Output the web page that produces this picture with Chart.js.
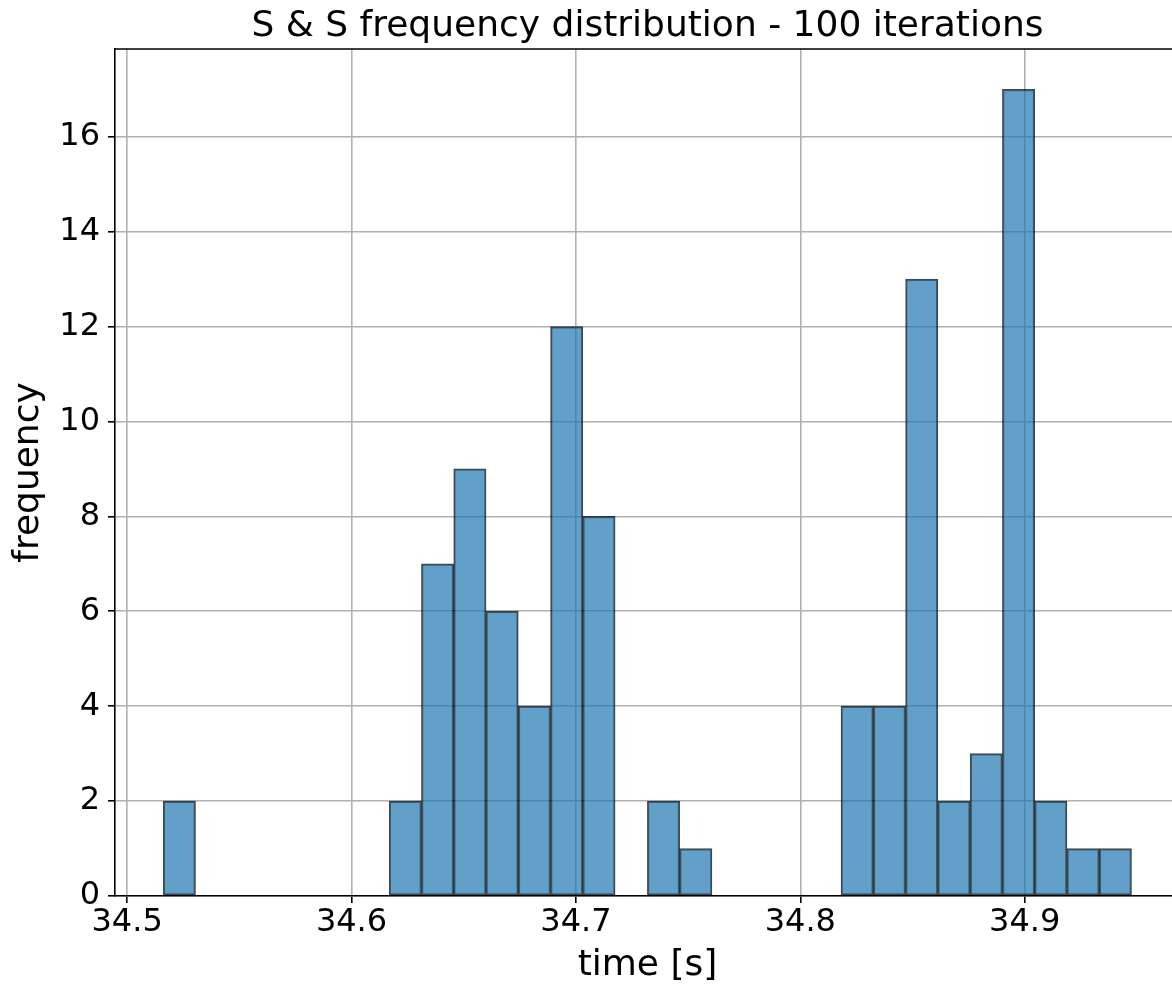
<!DOCTYPE html>
<html>
<head>
<meta charset="utf-8">
<script src="https://cdn.jsdelivr.net/npm/chart.js@4/dist/chart.umd.min.js"></script>
<style>
  html, body { margin: 0; padding: 0; overflow: hidden; background: #fff; }
</style>
</head>
<body>
<canvas id="myChart" width="1295" height="986"></canvas>
<script>
// histogram: 30 bins, first edge + width
const firstEdge = 34.5161;
const binWidth = 0.014383;
const counts = [2, 0, 0, 0, 0, 0, 0, 2, 7, 9, 6, 4, 12, 8, 0, 2, 1, 0, 0, 0, 0, 4, 4, 13, 2, 3, 17, 2, 1, 1];
const xTicks = [34.5, 34.6, 34.7, 34.8, 34.9];
const yTicks = [0, 2, 4, 6, 8, 10, 12, 14, 16];
const xMin = 34.4946, xMax = 34.9692;
const yMax = 17.85;

const points = counts.map((c, i) => ({ x: firstEdge + (i + 0.5) * binWidth, y: c === 0 ? null : c }));

const font = 'DejaVu Sans';

// matplotlib draws a full box round the axes
const spines = {
  id: 'spines',
  afterDraw(chart) {
    const { ctx, chartArea } = chart;
    ctx.save();
    ctx.strokeStyle = '#000';
    ctx.lineWidth = 1.6;
    ctx.beginPath();
    ctx.moveTo(chartArea.left - 0.8, chartArea.top);
    ctx.lineTo(chartArea.right, chartArea.top);
    ctx.lineTo(chartArea.right, chartArea.bottom);
    ctx.stroke();
    ctx.restore();
  }
};

const ctx = document.getElementById('myChart');
new Chart(ctx, {
  type: 'bar',
  data: {
    datasets: [{
      data: points,
      backgroundColor: 'rgba(31, 119, 180, 0.7)',
      borderColor: 'rgba(0, 0, 0, 0.72)',
      borderWidth: 1.5,
      borderSkipped: false,
      barPercentage: 1,
      categoryPercentage: 1
    }]
  },
  options: {
    responsive: false,
    animation: false,
    plugins: {
      legend: { display: false },
      tooltip: { enabled: false },
      title: {
        display: true,
        text: 'S & S frequency distribution - 100 iterations',
        color: '#000',
        font: { family: font, size: 36, weight: 'normal', lineHeight: 1 },
        padding: { top: 9, bottom: 4 }
      }
    },
    scales: {
      x: {
        type: 'linear',
        min: xMin,
        max: xMax,
        offset: false,
        z: 1,
        afterBuildTicks: axis => { axis.ticks = xTicks.map(v => ({ value: v })); },
        afterFit: axis => { axis.height = 90; },
        grid: { color: '#b0b0b0', lineWidth: 1.6, offset: false, tickLength: 7, tickColor: '#000', tickWidth: 1.6 },
        border: { color: '#000', width: 1.6 },
        ticks: {
          color: '#000',
          font: { family: font, size: 32, lineHeight: 1 },
          padding: 4,
          maxRotation: 0,
          autoSkip: false,
          callback: v => v.toFixed(1)
        },
        title: {
          display: true,
          text: 'time [s]',
          color: '#000',
          font: { family: font, size: 36, lineHeight: 1 },
          padding: { top: 9, bottom: 2 }
        }
      },
      y: {
        min: 0,
        max: yMax,
        z: 1,
        afterBuildTicks: axis => { axis.ticks = yTicks.map(v => ({ value: v })); },
        afterFit: axis => { axis.width = 115; },
        grid: { color: '#b0b0b0', lineWidth: 1.6, tickLength: 7, tickColor: '#000', tickWidth: 1.6 },
        border: { color: '#000', width: 1.6 },
        ticks: {
          color: '#000',
          font: { family: font, size: 32, lineHeight: 1 },
          padding: 8,
          callback: v => String(v)
        },
        title: {
          display: true,
          text: 'frequency',
          color: '#000',
          font: { family: font, size: 36, lineHeight: 1 },
          padding: { top: 11, bottom: 2 }
        }
      },
      // empty right side so the title centres on the plot, as in the source figure
      yRight: {
        position: 'right',
        min: 0,
        max: yMax,
        afterFit: axis => { axis.width = 115; },
        grid: { display: false },
        border: { display: false },
        ticks: { display: false }
      }
    }
  },
  plugins: [spines]
});
</script>
</body>
</html>
